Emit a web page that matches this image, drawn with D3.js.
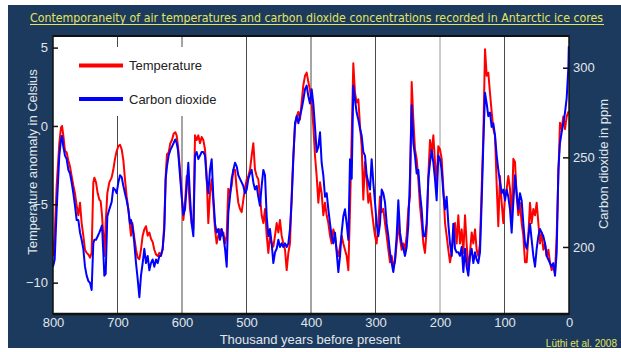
<!DOCTYPE html>
<html><head><meta charset="utf-8">
<script src="https://cdn.jsdelivr.net/npm/d3@7"></script>
<style>
html,body{margin:0;padding:0;background:#fff;overflow:hidden;}
svg{display:block;font-family:"Liberation Sans",Arial,sans-serif;}
</style></head><body>
<svg id="chart" width="621" height="352"></svg>
<script>
// thousand years before present
const ages = [800.0,797.4,794.3,790.2,787.6,786.0,784.0,781.4,778.8,776.2,773.6,771.1,768.5,765.9,763.3,760.7,758.1,755.6,753.0,750.4,747.8,745.2,742.6,740.1,737.5,735.9,733.3,730.7,728.2,726.1,724.0,722.0,720.4,718.3,715.8,712.7,709.1,706.5,703.9,701.3,698.7,696.1,693.5,690.9,688.4,685.8,683.2,680.6,679.1,677.0,674.4,671.3,668.7,666.1,663.6,661.0,658.4,655.8,653.2,650.6,648.1,645.5,642.9,640.3,637.7,635.1,632.6,630.0,627.4,625.3,623.3,620.7,618.1,615.5,613.0,610.4,608.3,606.2,603.1,600.5,597.9,
595.3,592.7,590.2,587.6,585.0,582.4,579.8,577.3,574.7,572.1,569.5,566.9,564.3,561.8,559.2,556.6,554.0,551.4,548.8,546.3,543.7,541.1,538.5,535.9,533.3,530.7,528.2,525.6,523.0,520.4,517.8,515.2,512.7,510.1,507.5,504.9,502.3,499.7,497.2,494.6,492.0,489.4,486.8,484.2,481.7,479.1,476.5,473.9,471.3,468.7,466.1,463.6,461.0,458.4,455.8,453.2,450.6,448.1,445.5,442.9,440.3,437.7,435.1,432.6,430.0,427.4,424.8,422.2,419.6,417.1,414.5,411.9,409.3,406.7,404.1,401.6,399.0,396.4,
393.8,391.2,388.6,386.0,383.5,380.9,378.3,375.7,373.1,370.5,368.0,365.4,362.8,360.2,357.6,355.0,352.5,349.9,347.3,344.7,342.1,339.5,336.9,334.4,331.8,329.2,326.6,324.0,321.4,318.9,316.3,313.7,311.1,308.5,306.0,303.4,300.8,298.2,295.6,293.0,290.4,287.9,285.3,282.7,280.1,277.5,274.9,272.4,269.8,267.2,264.6,262.0,259.4,256.8,254.3,251.7,249.1,246.5,243.9,241.3,238.8,236.2,233.6,231.0,228.4,225.8,223.3,220.7,218.1,215.5,212.9,210.3,207.8,205.2,202.6,200.0,197.4,194.8,
192.2,189.7,187.1,184.5,181.9,179.3,176.7,174.2,171.6,169.0,166.4,163.8,161.2,158.7,156.1,153.5,150.9,148.3,145.7,143.2,140.6,138.0,135.4,132.8,130.2,127.6,125.1,122.5,119.9,117.3,114.7,112.1,109.6,107.0,104.4,101.8,99.2,96.6,94.1,91.5,88.9,86.3,83.7,81.1,78.6,76.0,73.4,70.8,68.2,65.6,63.0,60.5,57.9,55.3,52.7,50.1,47.5,45.0,42.4,39.8,37.2,34.6,32.0,29.5,26.9,24.3,21.7,19.1,16.5,14.0,11.4,8.8,6.2,3.6,1.0,0.3];

// temperature anomaly (°C)
const temperature = [-8.3,-7.0,-3.8,-1.1,-0.1,0.0,-0.6,-1.6,-1.7,-2.2,-2.6,-3.2,-3.8,-4.3,-5.1,-5.7,-4.9,-6.2,-7.0,-7.9,-8.1,-8.2,-8.4,-8.1,-3.6,-3.3,-3.6,-4.3,-4.7,-4.8,-5.7,-7.0,-8.3,-6.2,-4.3,-3.6,-3.3,-2.8,-2.1,-1.6,-1.3,-1.2,-1.5,-2.2,-3.4,-4.5,-5.3,-6.4,-7.0,-6.2,-7.0,-7.9,-8.4,-8.5,-7.9,-7.0,-6.6,-6.4,-7.0,-6.8,-7.2,-7.4,-7.9,-8.2,-8.3,-8.1,-8.2,-7.9,-6.2,-3.2,-1.8,-1.7,-1.1,-0.9,-0.5,-0.4,-0.6,-1.3,-2.8,-4.3,-6.0,
-4.9,-3.2,-3.6,-5.3,-6.2,-6.6,-0.6,-0.9,-0.6,-1.1,-0.7,-0.9,-1.5,-3.2,-6.2,-4.3,-3.4,-4.9,-6.6,-7.5,-7.0,-6.6,-7.0,-6.8,-7.5,-7.0,-4.0,-4.3,-3.8,-2.8,-2.8,-4.0,-4.9,-5.3,-5.5,-4.7,-4.0,-3.4,-3.2,-2.8,-1.9,-1.1,-2.8,-3.2,-3.4,-4.5,-5.7,-6.2,-5.3,-7.0,-8.1,-7.0,-7.5,-7.7,-7.0,-6.2,-6.8,-6.0,-7.0,-7.5,-7.9,-9.2,-8.1,-7.5,-4.5,-1.9,0.0,0.6,0.9,0.4,1.5,2.6,3.2,3.4,2.8,2.3,1.5,0.0,
-1.9,-3.2,-4.9,-3.6,-4.3,-5.7,-4.9,-5.7,-6.2,-7.0,-7.5,-6.6,-7.0,-7.9,-8.3,-7.7,-7.0,-7.5,-7.9,-8.3,-9.2,-5.3,-0.6,4.0,2.1,1.5,1.7,0.0,-1.3,-4.7,-2.3,-3.4,-4.9,-4.3,-5.3,-6.2,-7.0,-7.5,-6.2,-4.5,-5.5,-5.3,-6.2,-7.0,-7.9,-8.7,-8.3,-8.9,-8.7,-7.5,-6.2,-7.2,-7.9,-7.5,-7.9,-7.0,-5.3,-4.5,2.8,0.4,-1.5,-2.1,-3.4,-5.1,-6.2,-7.5,-8.1,-6.6,-3.2,-0.9,-1.7,-0.6,-2.3,-3.6,-1.3,-1.5,-2.1,-4.0,
-6.2,-7.0,-7.9,-8.7,-8.1,-7.0,-6.2,-7.5,-5.7,-7.5,-6.6,-8.1,-5.7,-7.5,-9.2,-8.1,-6.8,-7.5,-6.6,-7.9,-8.3,-7.5,-4.0,-0.6,4.9,3.2,3.4,2.1,0.9,-0.2,-0.6,-3.8,-6.4,-3.2,-4.9,-6.2,-4.5,-4.0,-3.2,-4.0,-6.2,-2.1,-2.3,-4.5,-5.7,-4.9,-6.2,-7.0,-8.7,-8.7,-7.0,-4.9,-6.2,-5.3,-5.7,-4.9,-6.2,-7.5,-6.8,-7.9,-7.5,-8.3,-7.9,-8.7,-9.2,-8.9,-9.4,-7.0,-3.2,0.2,-0.2,0.6,-0.2,0.6,0.9,0.9];

// carbon dioxide (ppm)
const co2 = [189,193,221,251,260,262,256,251,249,243,241,236,230,223,215,215,208,204,199,189,184,181,180,176,202,204,204,206,208,210,212,197,184,185,217,221,225,233,232,230,236,240,239,234,230,226,221,213,215,212,204,191,182,172,184,191,199,191,195,187,191,193,189,193,191,195,195,199,210,238,245,251,254,256,258,260,258,254,240,228,218,
221,234,247,228,213,206,251,253,249,251,253,253,251,238,230,243,249,228,213,208,210,204,210,206,199,189,219,228,238,243,247,245,240,238,236,234,230,232,238,241,243,236,232,234,228,223,234,243,240,217,206,210,202,191,197,199,204,200,202,200,202,200,202,210,226,249,269,273,269,273,277,282,288,290,284,280,288,280,
267,253,256,264,247,240,228,230,221,213,206,202,208,197,186,195,208,217,221,213,204,249,238,290,282,275,271,266,262,253,251,240,236,232,249,236,225,213,206,213,232,230,225,213,206,197,191,186,193,206,226,208,202,199,195,200,212,240,279,258,251,241,243,230,221,206,206,213,238,247,254,247,238,226,251,249,243,230,
221,228,213,202,195,213,199,197,197,195,200,186,199,189,184,195,199,191,197,193,191,197,225,258,286,280,273,275,267,269,262,251,243,236,230,232,226,232,228,221,208,225,240,230,221,230,226,213,202,199,206,213,204,195,189,199,206,210,208,206,202,195,193,191,189,191,184,197,243,258,264,269,275,283,300,312];

const xTicks = [800,700,600,500,400,300,200,100,0];
const gridAges = [700,600,500,400,300,200,100];
const tempTicks = [5,0,-5,-10];
const co2Ticks = [200,250,300];
const seriesNames = ["Temperature","Carbon dioxide"];
const titleText = "Contemporaneity of air temperatures and carbon dioxide concentrations recorded in Antarctic ice cores";
const xTitle = "Thousand years before present";
const yTitle = "Temperature anomaly in Celsius";
const y2Title = "Carbon dioxide in ppm";
const credit = "Lüthi et al. 2008";

const W = 621, H = 352;
const L = 53, R = 569, T = 36, B = 314;
const svg = d3.select("#chart");
const panel = "#1b3a5e", labelCol = "#e2e6ea", yellow = "#e4e45c";

svg.append("rect").attr("x",8).attr("y",5).attr("width",W-8).attr("height",343).attr("fill",panel);

const x = d3.scaleLinear().domain([800,0]).range([L,R]);
const yT = d3.scaleLinear().domain([-12.0,5.74]).range([B,T]);
const yC = d3.scaleLinear().domain([162.6,317.7]).range([B,T]);

svg.append("rect").attr("x",L).attr("y",T).attr("width",R-L).attr("height",B-T).attr("fill","#fff");

// vertical grid lines
svg.append("g").selectAll("line").data(gridAges).join("line")
  .attr("x1",d=>x(d)).attr("x2",d=>x(d)).attr("y1",T).attr("y2",B)
  .attr("stroke",d=> d===200 ? "#9a9a9a" : "#4a4a4a").attr("stroke-width",1);

// legend background
svg.append("rect").attr("x",58).attr("y",47).attr("width",162).attr("height",69).attr("fill","#fff");

const data = ages.map((a,i)=>({age:a,t:temperature[i],c:co2[i]}));
const lineT = d3.line().x(d=>x(d.age)).y(d=>yT(d.t));
const lineC = d3.line().x(d=>x(d.age)).y(d=>yC(d.c));
svg.append("path").datum(data).attr("d",lineT).attr("fill","none").attr("stroke","#ff0000").attr("stroke-width",2).attr("stroke-linejoin","round");
svg.append("path").datum(data).attr("d",lineC).attr("fill","none").attr("stroke","#0000ff").attr("stroke-width",2).attr("stroke-linejoin","round");

// frame
svg.append("rect").attr("x",L).attr("y",T).attr("width",R-L).attr("height",B-T).attr("fill","none").attr("stroke","#111").attr("stroke-width",1.5);
svg.append("line").attr("x1",L).attr("x2",R).attr("y1",B).attr("y2",B).attr("stroke","#111").attr("stroke-width",2.5);
svg.append("line").attr("x1",L).attr("x2",R).attr("y1",T).attr("y2",T).attr("stroke","#111").attr("stroke-width",2);

// axes
const axL = svg.append("g").attr("transform",`translate(${L},0)`)
  .call(d3.axisLeft(yT).tickValues(tempTicks).tickSize(-5).tickPadding(5).tickFormat(d3.format("d")));
const axR = svg.append("g").attr("transform",`translate(${R},0)`)
  .call(d3.axisRight(yC).tickValues(co2Ticks).tickSize(-6).tickPadding(4));
const axB = svg.append("g").attr("transform",`translate(0,${B})`)
  .call(d3.axisBottom(x).tickValues(xTicks).tickSize(0).tickPadding(4));
[axL,axR,axB].forEach(g=>{
  g.select(".domain").remove();
  g.selectAll(".tick line").attr("stroke","#111").attr("stroke-width",1.5);
  g.selectAll("text").attr("fill",labelCol).attr("font-size",13).attr("font-family","Liberation Sans, Arial, sans-serif");
});

// legend
const leg = [{n:seriesNames[0],c:"#ff0000",y:65.5},{n:seriesNames[1],c:"#0000ff",y:99}];
leg.forEach(l=>{
  svg.append("line").attr("x1",79).attr("x2",123).attr("y1",l.y).attr("y2",l.y).attr("stroke",l.c).attr("stroke-width",4);
  svg.append("text").attr("x",129).attr("y",l.y+4.5).attr("font-size",13).attr("fill","#222").text(l.n);
});

// titles
svg.append("text").attr("x",(L+R)/2-1).attr("y",344).attr("text-anchor","middle").attr("font-size",13).attr("fill",labelCol).text(xTitle);
svg.append("text").attr("transform","translate(36.5,162) rotate(-90)").attr("text-anchor","middle").attr("font-size",13).attr("fill",labelCol).text(yTitle);
svg.append("text").attr("transform","translate(608,164) rotate(-90)").attr("text-anchor","middle").attr("font-size",13).attr("fill",labelCol).text(y2Title);

const title = svg.append("text").attr("x",30).attr("y",22).attr("font-size",14)
  .attr("font-family","'Liberation Sans Narrow','Arial Narrow','DejaVu Sans Condensed',sans-serif")
  .attr("fill",yellow).text(titleText);
const tw = title.node().getComputedTextLength();
const targetW = 574;
title.attr("font-size", (14*targetW/tw).toFixed(2));
svg.append("line").attr("x1",30).attr("x2",30+targetW).attr("y1",24.5).attr("y2",24.5).attr("stroke",yellow).attr("stroke-width",1);

svg.append("text").attr("x",617).attr("y",347).attr("text-anchor","end").attr("font-size",10).attr("fill",yellow).text(credit);
</script>
</body></html>
